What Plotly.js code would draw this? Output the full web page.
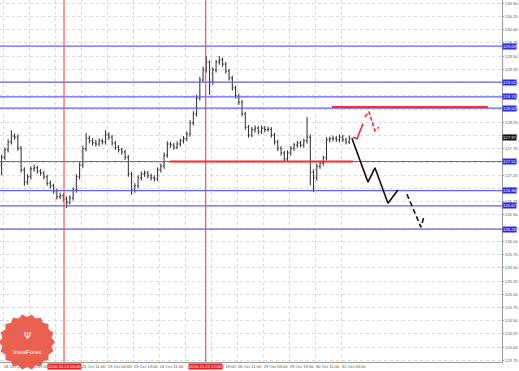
<!DOCTYPE html>
<html><head><meta charset="utf-8">
<script src="https://cdn.plot.ly/plotly-3.0.1.min.js"></script>
<style>html,body{margin:0;padding:0;background:#fff}#chart{width:519px;height:371px}</style>
</head><body><div id="chart"></div>
<script>
// ---- data (prices, 2-hour bars) ----
const openP = [127.44,127.59,127.73,127.88,127.99,127.97,127.76,127.35,127.12,127.22,
127.37,127.39,127.33,127.29,127.22,127.10,127.05,126.95,126.84,126.86,
126.80,126.74,126.82,126.97,127.22,127.44,127.75,127.95,127.90,127.86,
127.84,127.90,127.88,128.01,127.97,127.86,127.78,127.73,127.69,127.59,
127.27,126.97,127.05,127.20,127.27,127.29,127.24,127.20,127.18,127.35,
127.42,127.63,127.84,127.82,127.78,127.84,127.90,127.94,128.03,128.24,
128.41,128.71,129.05,129.24,129.39,129.01,129.24,129.39,129.43,129.35,
129.22,129.09,128.90,128.75,128.63,128.41,128.16,128.01,128.11,128.14,
128.07,128.14,128.11,128.12,128.01,127.88,127.76,127.67,127.56,127.67,
127.76,127.82,127.86,127.82,127.90,127.97,127.31,127.20,127.42,127.48,
127.58,127.92,127.94,127.95,127.92,127.97,127.92,127.88];
const highP = [127.64,127.78,127.93,128.10,128.04,128.02,127.80,127.40,127.27,127.42,
127.45,127.43,127.37,127.33,127.26,127.15,127.09,127.00,126.92,126.91,
126.85,126.87,127.02,127.27,127.49,127.80,128.05,128.00,127.95,127.92,
127.95,127.94,128.10,128.06,128.01,127.90,127.82,127.77,127.73,127.63,
127.31,127.10,127.25,127.32,127.34,127.33,127.28,127.25,127.40,127.47,
127.68,127.89,127.88,127.86,127.89,127.94,127.99,128.08,128.29,128.46,
128.77,129.11,129.30,129.50,129.42,129.29,129.43,129.50,129.47,129.39,
129.26,129.13,128.94,128.79,128.67,128.45,128.20,128.16,128.19,128.18,
128.19,128.18,128.17,128.16,128.05,127.92,127.80,127.71,127.72,127.80,
127.86,127.90,127.90,127.94,128.35,128.02,127.36,127.47,127.52,127.62,
127.97,127.98,128.00,127.99,128.02,128.01,127.96,128.00];
const lowP = [127.25,127.54,127.68,127.83,127.92,127.71,127.30,127.05,127.07,127.17,
127.32,127.28,127.24,127.17,127.05,127.00,126.90,126.79,126.80,126.75,
126.63,126.70,126.77,126.92,127.17,127.39,127.70,127.85,127.81,127.79,
127.80,127.83,127.83,127.92,127.81,127.73,127.68,127.64,127.54,127.22,
126.88,126.92,127.00,127.15,127.22,127.19,127.15,127.13,127.14,127.30,
127.37,127.58,127.77,127.73,127.74,127.79,127.85,127.89,127.98,128.19,
128.36,128.66,129.00,129.19,128.77,128.96,129.19,129.34,129.30,129.17,
129.04,128.85,128.70,128.58,128.36,128.11,127.96,127.97,128.06,128.02,
128.03,128.06,128.07,127.96,127.83,127.71,127.62,127.51,127.52,127.62,
127.71,127.77,127.78,127.77,127.85,127.06,126.93,127.15,127.37,127.43,
127.53,127.87,127.89,127.88,127.87,127.88,127.83,127.84];
const closeP = [127.59,127.73,127.88,127.99,127.97,127.76,127.35,127.12,127.22,127.37,
127.39,127.33,127.29,127.22,127.10,127.05,126.95,126.84,126.86,126.80,
126.74,126.82,126.97,127.22,127.44,127.75,127.95,127.90,127.86,127.84,
127.90,127.88,128.01,127.97,127.86,127.78,127.73,127.69,127.59,127.27,
126.97,127.05,127.20,127.27,127.29,127.24,127.20,127.18,127.35,127.42,
127.63,127.84,127.82,127.78,127.84,127.90,127.94,128.03,128.24,128.41,
128.71,129.05,129.24,129.39,129.01,129.24,129.39,129.43,129.35,129.22,
129.09,128.90,128.75,128.63,128.41,128.16,128.01,128.11,128.14,128.07,
128.14,128.11,128.12,128.01,127.88,127.76,127.67,127.56,127.67,127.76,
127.82,127.86,127.82,127.90,127.97,127.31,127.20,127.42,127.48,127.58,
127.92,127.94,127.95,127.92,127.97,127.92,127.88,127.95];
const barHours = openP.map((_, k) => 2 * k + 1);

const blueLevels = [129.69, 129.01, 128.73, 128.52, 127.51, 126.96, 126.67, 126.23];
const currentPrice = 127.97;

const redSegLevels = [128.54, 127.51];
const redSegStart = [204.3, 104.6];
const redSegEnd = [300.3, 217.2];

const eventHours = [39.4, 126.6];
const eventText = ['2016.10.20 00:00', '2016.10.25 12:00'];

const xTickHours = [2, 18, 34, 50, 66, 82, 98, 114, 130, 146, 162, 178, 194, 210];
const xTickText = ['18 Oct 2016', '19 Oct 03:00', '', '21 Oct 11:00', '23 Oct 03:00', '23 Oct 19:00',
  '24 Oct 11:00', '', '25 Oct 19:00', '26 Oct 11:00', '29 Oct 03:00', '29 Oct 19:00', '30 Oct 11:00', '31 Oct 03:00'];

// forecast paths
const blackSolidX = [216.6, 226.5, 230.8, 238.8, 244.9];
const blackSolidY = [127.95, 127.12, 127.39, 126.72, 126.97];
const blackDashX = [250.5, 259.1, 260.9];
const blackDashY = [126.89, 126.27, 126.46];
const redSolidX = [217.2, 219.7, 223.4];
const redSolidY = [127.97, 127.94, 128.22];
const redDashX = [224.6, 227.1, 230.8, 233.2];
const redDashY = [128.35, 128.45, 128.09, 128.16];

const FONT = 'Liberation Sans, Arial, sans-serif';
const X_RANGE = [0, 309];
const Y_RANGE = [123.72, 130.562];

// ---- traces ----
const traces = [];
blueLevels.forEach(lv => traces.push({
  type: 'scatter', mode: 'lines', x: X_RANGE, y: [lv, lv],
  line: {color: '#5f5ff7', width: 1.2}, hoverinfo: 'skip', showlegend: false
}));
eventHours.forEach(h => traces.push({
  type: 'scatter', mode: 'lines', x: [h, h], y: Y_RANGE,
  line: {color: '#ff5050', width: 1.2}, hoverinfo: 'skip', showlegend: false
}));
traces.push({
  type: 'ohlc', x: barHours, open: openP, high: highP, low: lowP, close: closeP,
  increasing: {line: {color: '#2a2a2a', width: 1}},
  decreasing: {line: {color: '#2a2a2a', width: 1}},
  tickwidth: 0.35, hoverinfo: 'skip', showlegend: false
});
redSegLevels.forEach((lv, i) => traces.push({
  type: 'scatter', mode: 'lines', x: [redSegStart[i], redSegEnd[i]], y: [lv, lv],
  line: {color: '#ff2a2a', width: 2}, hoverinfo: 'skip', showlegend: false
}));
traces.push({type: 'scatter', mode: 'lines', x: blackSolidX, y: blackSolidY,
  line: {color: '#111', width: 1.6}, hoverinfo: 'skip', showlegend: false});
traces.push({type: 'scatter', mode: 'lines', x: blackDashX, y: blackDashY,
  line: {color: '#111', width: 1.6, dash: '5px,3px'}, hoverinfo: 'skip', showlegend: false});
traces.push({type: 'scatter', mode: 'lines', x: redSolidX, y: redSolidY,
  line: {color: '#ff2a2a', width: 1.6}, hoverinfo: 'skip', showlegend: false});
traces.push({type: 'scatter', mode: 'lines', x: redDashX, y: redDashY,
  line: {color: '#ff2a2a', width: 1.6, dash: '4px,2px'}, hoverinfo: 'skip', showlegend: false});

// ---- logo badge (decoration) ----
const shapes = [];
const PW = 502, PH = 362;
const cx = 27, cy = 342;
let path = '';
const N = 36;
for (let i = 0; i <= N; i++) {
  const a = i / N * 2 * Math.PI;
  const r = (i % 2 === 0) ? 28 : 25;
  const px = cx + r * Math.cos(a), py = cy + r * Math.sin(a);
  path += (i === 0 ? 'M' : 'L') + (px / PW).toFixed(4) + ',' + (1 - py / PH).toFixed(4);
}
path += 'Z';
shapes.push({type: 'path', xref: 'paper', yref: 'paper', path: path,
  fillcolor: 'rgba(232,80,62,0.9)', line: {width: 0}, layer: 'above'});

// ---- annotations ----
const ann = [];
eventHours.forEach((h, i) => ann.push({xref: 'x', x: h, xanchor: 'center', yref: 'paper', y: 0, yanchor: 'top', yshift: -1,
  text: eventText[i], showarrow: false, bgcolor: '#e82020', borderpad: 0,
  font: {size: 4.2, color: '#fff', family: FONT}}));
ann.push({xref: 'paper', yref: 'paper', x: cx / PW, y: 1 - 352 / PH, xanchor: 'center', yanchor: 'middle',
  text: 'InstaForex', showarrow: false, font: {size: 6, color: '#fff', family: FONT}});
ann.push({xref: 'paper', yref: 'paper', x: cx / PW, y: 1 - 336 / PH, xanchor: 'center', yanchor: 'middle',
  text: 'Ψ', showarrow: false, font: {size: 9, color: '#fff', family: 'DejaVu Sans'}});
blueLevels.forEach(lv => ann.push({xref: 'paper', x: 1, xanchor: 'left', xshift: 0, yref: 'y', y: lv, yanchor: 'middle',
  text: lv.toFixed(2), showarrow: false, bgcolor: '#2b2be6', borderpad: 0,
  font: {size: 4.2, color: '#fff', family: FONT}}));
ann.push({xref: 'paper', x: 1, xanchor: 'left', xshift: 0, yref: 'y', y: currentPrice, yanchor: 'middle',
  text: currentPrice.toFixed(2), showarrow: false, bgcolor: '#111', borderpad: 0,
  font: {size: 4.2, color: '#fff', family: FONT}});

const layout = {
  width: 519, height: 371,
  margin: {l: 0, r: 17, t: 0, b: 9, pad: 0},
  paper_bgcolor: '#fff', plot_bgcolor: '#fff',
  showlegend: false,
  font: {family: FONT, size: 4.2, color: '#555'},
  xaxis: {
    range: X_RANGE, fixedrange: true, automargin: false,
    rangeslider: {visible: false},
    tickmode: 'array', tickvals: xTickHours, ticktext: xTickText,
    ticklabelposition: 'outside right', tickangle: 0,
    tickfont: {size: 4.2, color: '#555', family: FONT},
    ticks: '', ticklen: 0,
    showgrid: true, gridcolor: '#dadada', griddash: 'dot', gridwidth: 1,
    showline: true, linecolor: '#999', linewidth: 1, zeroline: false
  },
  yaxis: {
    side: 'right', range: Y_RANGE, fixedrange: true, automargin: false,
    tick0: 123.75, dtick: 0.25, tickformat: '.2f',
    tickfont: {size: 4.2, color: '#555', family: FONT},
    ticks: 'outside', ticklen: 1, tickcolor: '#999',
    showgrid: true, gridcolor: '#dadada', griddash: 'dot', gridwidth: 1,
    showline: true, linecolor: '#999', linewidth: 1, zeroline: false
  },
  shapes: shapes,
  annotations: ann
};

Plotly.newPlot('chart', traces, layout, {staticPlot: true, displayModeBar: false});
</script>
</body></html>
